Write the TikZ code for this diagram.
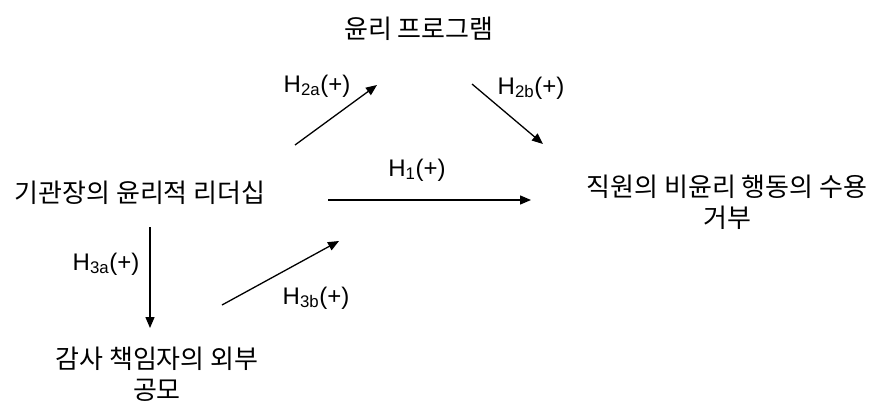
\documentclass[tikz,border=0pt]{standalone}
\usepackage{fontspec}
\setmainfont{Liberation Sans}
\newfontfamily\kor{Noto Sans CJK KR}
\usetikzlibrary{arrows.meta}
\tikzset{
  kr/.style={font=\kor\fontsize{26}{31}\selectfont, align=center, inner sep=0pt},
  hl/.style={font=\fontsize{24}{28}\selectfont, inner sep=0pt},
  arr/.style={line width=1.3pt, -{Triangle[length=11pt,width=9pt]}}
}
\begin{document}
\begin{tikzpicture}[x=1pt,y=-1pt]
\useasboundingbox (0,0) rectangle (879,402);
\node[kr] (prog) at (419,29) {윤리 프로그램};
\node[kr] (lead) at (140,193) {기관장의 윤리적 리더십};
\node[kr] (emp) at (727,202) {직원의 비윤리 행동의 수용\\거부};
\node[kr] (aud) at (157,374) {감사 책임자의 외부\\공모};
\node[hl] (h2a) at (317,86) {H$_{\mathrm{2a}}$(+)};
\node[hl] (h2b) at (531,88) {H$_{\mathrm{2b}}$(+)};
\node[hl] (h1) at (417,170) {H$_{\mathrm{1}}$(+)};
\node[hl] (h3a) at (106,264) {H$_{\mathrm{3a}}$(+)};
\node[hl] (h3b) at (316,298) {H$_{\mathrm{3b}}$(+)};
\coordinate (a2s) at (295,145);
\coordinate (a2e) at (377,85);
\coordinate (b2s) at (472,84);
\coordinate (b2e) at (543,144);
\coordinate (a1s) at (328,200);
\coordinate (a1e) at (531,200);
\coordinate (a3s) at (150,227);
\coordinate (a3e) at (150,328);
\coordinate (b3s) at (222,305);
\coordinate (b3e) at (339,241);
\draw[arr] (a2s) -- (a2e);
\draw[arr] (b2s) -- (b2e);
\draw[arr] (a1s) -- (a1e);
\draw[arr] (a3s) -- (a3e);
\draw[arr] (b3s) -- (b3e);
\end{tikzpicture}
\end{document}
